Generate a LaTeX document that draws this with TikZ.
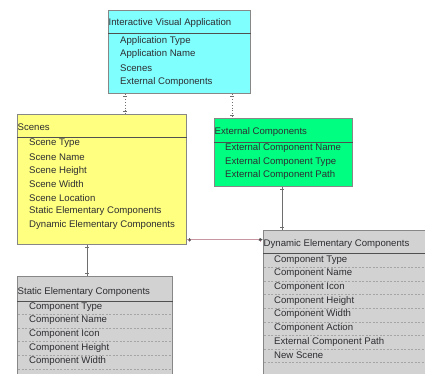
\documentclass[tikz,border=0pt]{standalone}
\usepackage{fontspec}
\setmainfont{Liberation Sans}
\usetikzlibrary{positioning, calc, arrows.meta, decorations.markings}
\definecolor{appcyan}{RGB}{128,255,255}
\definecolor{sceneyellow}{RGB}{255,255,128}
\definecolor{extgreen}{RGB}{0,255,128}
\definecolor{compgray}{RGB}{210,210,210}
\definecolor{boxline}{RGB}{135,135,135}
\definecolor{divgray}{RGB}{80,80,80}
\definecolor{rowgray}{RGB}{165,165,165}
\definecolor{linkgray}{RGB}{110,110,110}
\definecolor{assocpink}{RGB}{200,150,160}
\definecolor{textgray}{RGB}{45,45,50}

\begin{document}
\begin{tikzpicture}[
    x=1pt, y=-1pt,
    classbox/.style={rectangle, draw=boxline, line width=0.6pt, fill=#1, anchor=north west, inner sep=0pt},
    header/.style={anchor=west, inner sep=0.5pt, font=\fontsize{9.6}{11}\selectfont, text=textgray},
    attr/.style={anchor=west, inner sep=0pt, font=\fontsize{9.6}{11}\selectfont, text=textgray},
    divider/.style={draw=divgray, line width=0.8pt},
    rowline/.style={draw=rowgray, dash pattern=on 2pt off 1.5pt, line width=0.5pt},
    endticks/.style={postaction={decorate}, decoration={markings,
        mark=at position 3pt with {\draw[solid, line width=0.5pt] (0,-2pt) -- (0,2pt);},
        mark=at position -3pt with {\draw[solid, line width=0.5pt] (0,-2pt) -- (0,2pt);}}},
    dotlink/.style={draw=linkgray, dotted, line width=0.8pt, endticks},
    solidlink/.style={draw=linkgray, line width=0.6pt, endticks},
    assoc/.style={draw=assocpink, line width=0.7pt, -{Latex[length=3pt, width=3pt, color=divgray]}},
]
\useasboundingbox (0,0) rectangle (425,374);
\clip (0,0) rectangle (425,374);

% Application class
\node[classbox=appcyan, minimum width=142pt, minimum height=83pt] (iva) at (108,10) {};
\node[header] (iva-head) at ($(iva.north west)+(0,13.5)$) {Interactive Visual Application};
\draw[divider] ($(iva.north west)+(0,23.5)$) -- ($(iva.north east)+(0,23.5)$);
\foreach \txt [count=\i] in {Application Type, Application Name, Scenes, External Components}
    \node[attr] (iva-\i) at ($(iva.north west)+(12,17.2+13.6*\i)$) {\txt};

% Scenes class
\node[classbox=sceneyellow, minimum width=169pt, minimum height=130pt] (scenes) at (17,114) {};
\node[header] (scenes-head) at ($(scenes.north west)+(0,13.5)$) {Scenes};
\draw[divider] ($(scenes.north west)+(0,23.5)$) -- ($(scenes.north east)+(0,23.5)$);
\foreach \txt [count=\i] in {Scene Type, Scene Name, Scene Height, Scene Width, Scene Location,
        Static Elementary Components, Dynamic Elementary Components}
    \node[attr] (scenes-\i) at ($(scenes.north west)+(12,15.8+13.6*\i)$) {\txt};

% External components class
\node[classbox=extgreen, minimum width=138pt, minimum height=68pt] (ext) at (214,118) {};
\node[header] (ext-head) at ($(ext.north west)+(0,14)$) {External Components};
\draw[divider] ($(ext.north west)+(0,24.5)$) -- ($(ext.north east)+(0,24.5)$);
\foreach \txt [count=\i] in {External Component Name, External Component Type, External Component Path}
    \node[attr] (ext-\i) at ($(ext.north west)+(11,16.6+13.6*\i)$) {\txt};

% Dynamic components class
\node[classbox=compgray, minimum width=177pt, minimum height=170pt] (dyn) at (263,230) {};
\foreach \i in {1,...,10}
    \draw[rowline] ($(dyn.north west)+(1,23.8+13.6*\i)$) -- ($(dyn.north east)+(-1,23.8+13.6*\i)$);
\node[header] (dyn-head) at ($(dyn.north west)+(0,14)$) {Dynamic Elementary Components};
\draw[divider] ($(dyn.north west)+(0,23.5)$) -- ($(dyn.north east)+(0,23.5)$);
\foreach \txt [count=\i] in {Component Type, Component Name, Component Icon, Component Height,
        Component Width, Component Action, External Component Path, New Scene}
    \node[attr] (dyn-\i) at ($(dyn.north west)+(11,16.4+13.6*\i)$) {\txt};

% Static components class
\node[classbox=compgray, minimum width=155pt, minimum height=124pt] (stat) at (17,276) {};
\foreach \i in {1,...,6}
    \draw[rowline] ($(stat.north west)+(1,24.8+13.6*\i)$) -- ($(stat.north east)+(-1,24.8+13.6*\i)$);
\node[header] (stat-head) at ($(stat.north west)+(0,16)$) {Static Elementary Components};
\draw[divider] ($(stat.north west)+(0,25)$) -- ($(stat.north east)+(0,25)$);
\foreach \txt [count=\i] in {Component Type, Component Name, Component Icon, Component Height, Component Width}
    \node[attr] (stat-\i) at ($(stat.north west)+(12,17.4+13.6*\i)$) {\txt};

% Links
\coordinate (iva-l) at ($(iva.south west)+(17,0)$);
\coordinate (iva-r) at ($(iva.south west)+(124,0)$);
\coordinate (scenes-b) at ($(scenes.south west)+(70,0)$);
\coordinate (scenes-r) at ($(scenes.south east)+(0,-5)$);
\coordinate (ext-b) at ($(ext.south west)+(68,0)$);
\draw[dotlink] (iva-l) -- (iva-l |- scenes.north);
\draw[dotlink] (iva-r) -- (iva-r |- ext.north);
\draw[solidlink] (scenes-b) -- (scenes-b |- stat.north);
\draw[solidlink] (ext-b) -- (ext-b |- dyn.north);
\draw[assoc, endticks] (scenes-r) -- (scenes-r -| dyn.west);
\end{tikzpicture}
\end{document}
